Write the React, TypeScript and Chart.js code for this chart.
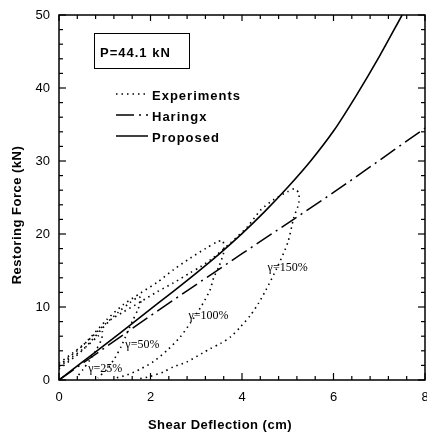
import React, { useEffect, useRef } from "react";
import { Chart, registerables } from "chart.js";

Chart.register(...registerables);

// ---- Data ----
const X_MIN = 0, X_MAX = 8, X_MAJOR = 2, X_MINOR = 0.4;
const Y_MIN = 0, Y_MAX = 50, Y_MAJOR = 10, Y_MINOR = 2;

const proposedX = [0, 0.5, 1, 1.5, 2, 2.5, 3, 3.5, 4, 4.5, 5, 5.5, 6, 6.5, 7, 7.5];
const proposedY = [0, 2.4, 4.8, 7.25, 9.7, 12.15, 14.65, 17.25, 20.05, 23.1, 26.4, 30.0, 34.1, 39.0, 44.3, 50.0];

const haringxX = [0, 2, 4, 6, 8];
const haringxY = [0, 8.8, 17.3, 25.7, 34.5];

const exp25X = [0, 0.3, 0.6, 0.85, 0.95, 0.93, 0.82, 0.68, 0.52, 0.38];
const exp25Y = [1.8, 3.2, 4.6, 6.0, 6.6, 5.6, 4.2, 2.8, 1.4, 0.3];

const exp50X = [0, 0.3, 0.6, 1.0, 1.3, 1.55, 1.75, 1.8, 1.72, 1.6, 1.48, 1.36, 1.22, 1.05, 0.85];
const exp50Y = [2.3, 3.7, 5.2, 7.6, 9.3, 10.6, 11.4, 11.0, 9.6, 8.0, 6.3, 4.6, 3.0, 1.5, 0.3];

const exp100X = [0, 0.5, 1.05, 1.4, 1.78, 2.15, 2.5, 2.87, 3.2, 3.45, 3.58, 3.6, 3.5, 3.38, 3.3, 3.1, 2.87, 2.65, 2.37, 2.06, 1.78, 1.49, 1.2];
const exp100Y = [2.0, 4.6, 8.3, 10.3, 11.9, 13.4, 15.1, 16.7, 18.0, 18.9, 19.1, 17.5, 15.6, 14.0, 12.3, 10.0, 7.8, 5.9, 4.1, 2.5, 1.5, 0.7, 0.2];

const exp150X = [0, 0.5, 1.12, 1.4, 1.78, 2.15, 2.5, 2.87, 3.09, 3.38, 3.75, 4.12, 4.41, 4.69, 5.0, 5.15, 5.24, 5.24, 5.13, 5.0, 4.76, 4.52, 4.36, 4.19, 3.97, 3.75, 3.53, 3.31, 3.14, 2.8, 2.5, 2.28, 2.0, 1.7];
const exp150Y = [1.5, 4.0, 8.2, 9.3, 10.7, 12.1, 13.3, 14.7, 15.5, 16.8, 18.8, 21.0, 23.3, 24.7, 25.8, 26.2, 25.6, 24.2, 22.2, 18.8, 15.3, 12.3, 10.5, 8.9, 7.3, 5.9, 5.0, 4.3, 3.7, 2.5, 1.8, 1.1, 0.5, 0.1];

const legendLabels = ["Experiments", "Haringx", "Proposed"];
const boxText = "P=44.1 kN";
const gammaLabels = ["γ=25%", "γ=50%", "γ=100%", "γ=150%"];
const gammaX = [0.64, 1.45, 2.83, 4.56];
const gammaY = [1.5, 4.8, 8.8, 15.3];
const xTitle = "Shear Deflection (cm)";
const yTitle = "Restoring Force (kN)";

const pts = (xs: number[], ys: number[]) => xs.map((x, i) => ({ x, y: ys[i] }));

const DOT = [1.5, 4];
const DASHDOT = [18, 5, 2, 5];

const overlay = {
  id: "overlay",
  afterDraw(chart: any) {
    const { ctx, chartArea: a, scales } = chart;
    const xs = scales.x, ys = scales.y;
    ctx.save();
    ctx.strokeStyle = "#000";
    ctx.fillStyle = "#000";
    // frame
    ctx.lineWidth = 1.5;
    ctx.strokeRect(a.left, a.top, a.right - a.left, a.bottom - a.top);
    // inward ticks
    ctx.lineWidth = 1.2;
    const seg = (x1: number, y1: number, x2: number, y2: number) => {
      ctx.beginPath(); ctx.moveTo(x1, y1); ctx.lineTo(x2, y2); ctx.stroke();
    };
    const nx = Math.round((X_MAX - X_MIN) / X_MINOR);
    for (let i = 0; i <= nx; i++) {
      const v = X_MIN + i * X_MINOR;
      const major = Math.abs(v / X_MAJOR - Math.round(v / X_MAJOR)) < 1e-6;
      const len = major ? 7 : 4;
      const p = xs.getPixelForValue(v);
      seg(p, a.bottom, p, a.bottom - len);
      seg(p, a.top, p, a.top + (major ? 6 : 4));
    }
    const ny = Math.round((Y_MAX - Y_MIN) / Y_MINOR);
    for (let i = 0; i <= ny; i++) {
      const v = Y_MIN + i * Y_MINOR;
      const major = Math.abs(v / Y_MAJOR - Math.round(v / Y_MAJOR)) < 1e-6;
      const len = major ? 7 : 4;
      const p = ys.getPixelForValue(v);
      seg(a.left, p, a.left + len, p);
      seg(a.right, p, a.right - len, p);
    }
    // P box
    ctx.lineWidth = 1;
    ctx.strokeRect(a.left + 35.5, a.top + 18.5, 95, 35);
    ctx.font = "bold 13px 'Liberation Sans', Arial, sans-serif";
    (ctx as any).letterSpacing = "1px";
    ctx.textBaseline = "alphabetic";
    ctx.textAlign = "left";
    ctx.fillText(boxText, a.left + 41, a.top + 42);
    // legend
    const styles = [DOT, DASHDOT, []];
    const rowsText = [100, 121, 142];
    for (let i = 0; i < legendLabels.length; i++) {
      const ly = rowsText[i] - 6;
      ctx.save();
      ctx.lineWidth = i === 0 ? 1.6 : 1.5;
      ctx.setLineDash(styles[i]);
      seg(116, ly, 148, ly);
      ctx.restore();
      ctx.fillText(legendLabels[i], 152, rowsText[i]);
    }
    (ctx as any).letterSpacing = "0px";
    // gamma labels
    ctx.font = "12px 'Liberation Serif', 'Times New Roman', serif";
    ctx.textBaseline = "middle";
    for (let i = 0; i < gammaLabels.length; i++) {
      ctx.fillText(gammaLabels[i], xs.getPixelForValue(gammaX[i]), ys.getPixelForValue(gammaY[i]));
    }
    // axis titles
    ctx.font = "bold 13px 'Liberation Sans', Arial, sans-serif";
    (ctx as any).letterSpacing = "0.5px";
    ctx.textAlign = "center";
    ctx.textBaseline = "middle";
    ctx.fillText(xTitle, 220, 425);
    ctx.save();
    ctx.translate(17, 215);
    ctx.rotate(-Math.PI / 2);
    ctx.fillText(yTitle, 0, 0);
    ctx.restore();
    (ctx as any).letterSpacing = "0px";
    ctx.restore();
  },
};

export default function App() {
  const ref = useRef<HTMLCanvasElement>(null);
  useEffect(() => {
    document.body.style.margin = "0";
    const line = (data: any, dash: number[], width: number, smooth: boolean) => ({
      data,
      borderColor: "#000",
      backgroundColor: "#000",
      borderWidth: width,
      borderDash: dash,
      pointRadius: 0,
      tension: smooth ? 0.4 : 0.25,
      cubicInterpolationMode: smooth ? "monotone" : "default",
      fill: false,
    });
    const chart = new Chart(ref.current!, {
      type: "line",
      data: {
        datasets: [
          line(pts(exp25X, exp25Y), DOT, 1.6, false),
          line(pts(exp50X, exp50Y), DOT, 1.6, false),
          line(pts(exp100X, exp100Y), DOT, 1.6, false),
          line(pts(exp150X, exp150Y), DOT, 1.6, false),
          line(pts(haringxX, haringxY), DASHDOT, 1.5, true),
          line(pts(proposedX, proposedY), [], 1.6, true),
        ],
      },
      options: {
        animation: false,
        responsive: false,
        events: [],
        layout: { padding: { top: 15, right: 2, left: 0, bottom: 0 } },
        plugins: { legend: { display: false }, tooltip: { enabled: false } },
        scales: {
          x: {
            type: "linear",
            min: X_MIN,
            max: X_MAX,
            ticks: { stepSize: X_MAJOR, color: "#000", font: { size: 13, family: "'Liberation Sans', Arial, sans-serif" }, padding: 10, maxRotation: 0, autoSkip: false },
            grid: { display: false, drawTicks: false, tickLength: 0 },
            border: { display: false },
            afterFit: (s: any) => { s.height = 55; s.paddingLeft = 0; s.paddingRight = 0; },
          },
          y: {
            type: "linear",
            min: Y_MIN,
            max: Y_MAX,
            ticks: { stepSize: Y_MAJOR, color: "#000", font: { size: 13, family: "'Liberation Sans', Arial, sans-serif" }, padding: 9 },
            grid: { display: false, drawTicks: false, tickLength: 0 },
            border: { display: false },
            afterFit: (s: any) => { s.width = 59; s.paddingTop = 0; s.paddingBottom = 0; },
          },
        },
      } as any,
      plugins: [overlay],
    });
    return () => chart.destroy();
  }, []);
  return (
    <div style={{ position: "absolute", left: 0, top: 0, width: 427, height: 435, background: "#fff" }}>
      <canvas ref={ref} width={427} height={435} />
    </div>
  );
}
